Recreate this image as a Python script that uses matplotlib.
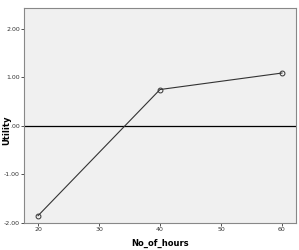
import matplotlib.pyplot as plt

hours = [20, 40, 60]
utility = [-1.85, 0.75, 1.09]
yticks = [-2.0, -1.0, 0.0, 1.0, 2.0]
ylabels = ["-2.00", "-1.00", ".00", "1.00", "2.00"]
xticks = [20, 30, 40, 50, 60]

fig = plt.figure(figsize=(2.99, 2.5), dpi=100)
ax = fig.add_axes([24/299, 27/250, 272/299, 215/250])
ax.set_facecolor("#f0f0f0")

ax.axhline(0, color="black", lw=0.9, zorder=1)
ax.plot(hours, utility, color="#333333", lw=0.8, marker="o", ms=3.5,
        mfc="none", mec="#333333", mew=0.7, zorder=2)

ax.set_xlim(17.7, 62.3)
ax.set_ylim(-2.0, 2.43)
ax.set_xticks(xticks)
ax.set_yticks(yticks)
ax.set_yticklabels(ylabels)
ax.tick_params(labelsize=4.5, length=2, width=0.6, pad=1, colors="#333333")

for s in ax.spines.values():
    s.set_color("#888888")
    s.set_linewidth(0.8)

ax.set_xlabel("No_of_hours", fontsize=6, fontweight="bold")
ax.set_ylabel("Utility", fontsize=6, fontweight="bold", va="center")
ax.xaxis.set_label_coords(0.5, -0.075)
ax.yaxis.set_label_coords(-0.064, 0.43)

fig.savefig("out.png", dpi=100)
